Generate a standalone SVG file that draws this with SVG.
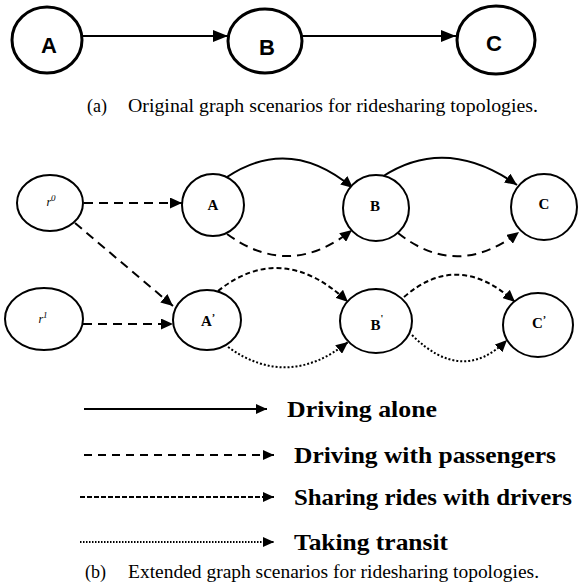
<svg xmlns="http://www.w3.org/2000/svg" width="578" height="586" viewBox="0 0 578 586">
  <style>
    .bg { fill: #ffffff; }
    .node-a { fill: #ffffff; stroke: #000; stroke-width: 3; }
    .node { fill: #ffffff; stroke: #000; stroke-width: 2; }
    .lbl-a { font-family: "Liberation Sans", Arial, sans-serif; font-weight: bold; font-size: 22px; text-anchor: middle; fill: #000; }
    .lbl { font-family: "Liberation Serif", "Times New Roman", serif; font-weight: bold; font-size: 15px; text-anchor: middle; fill: #000; }
    .lbl-r { font-family: "Liberation Serif", "Times New Roman", serif; font-style: italic; font-size: 12px; text-anchor: middle; fill: #000; }
    .cap { font-family: "Liberation Serif", "Times New Roman", serif; font-size: 18px; fill: #000; }
    .leg { font-family: "Liberation Serif", "Times New Roman", serif; font-weight: bold; font-size: 23px; fill: #000; }
    .edge { fill: none; stroke: #000; stroke-width: 2; }
    .solid-a { marker-end: url(#headA); }
    .solid { marker-end: url(#head); }
    .dash { stroke-dasharray: 9 6; marker-end: url(#head); }
    .dashdot { stroke-dasharray: 5 3; marker-end: url(#head); }
    .dot { stroke-dasharray: 2 2; marker-end: url(#head); }
    .leg-line { fill: none; stroke: #000; stroke-width: 1.8; marker-end: url(#headL); }
  </style>
  <defs>
    <marker id="headA" markerUnits="userSpaceOnUse" markerWidth="15" markerHeight="12" refX="15" refY="6" orient="auto">
      <path d="M0,0 L15,6 L0,12 z" fill="#000"/>
    </marker>
    <marker id="head" markerUnits="userSpaceOnUse" markerWidth="12" markerHeight="11" refX="12" refY="5.5" orient="auto">
      <path d="M0,0 L12,5.5 L0,11 z" fill="#000"/>
    </marker>
    <marker id="headL" markerUnits="userSpaceOnUse" markerWidth="11" markerHeight="10" refX="11" refY="5" orient="auto">
      <path d="M0,0 L11,5 L0,10 z" fill="#000"/>
    </marker>
  </defs>

  <rect class="bg" x="0" y="0" width="578" height="586"/>

  <!-- (a) original graph -->
  <g id="connectors-a">
    <path class="edge solid-a" d="M82,36 L228,36"/>
    <path class="edge solid-a" d="M301,36 L456,36"/>
  </g>
  <g id="a-node-A">
    <ellipse class="node-a" cx="47" cy="40" rx="35" ry="33"/>
    <text class="lbl-a" x="49" y="53">A</text>
  </g>
  <g id="a-node-B">
    <ellipse class="node-a" cx="265" cy="41" rx="37" ry="32"/>
    <text class="lbl-a" x="267" y="55">B</text>
  </g>
  <g id="a-node-C">
    <ellipse class="node-a" cx="496" cy="40" rx="39" ry="34"/>
    <text class="lbl-a" x="494" y="51">C</text>
  </g>
  <text class="cap" x="87" y="112">(a)</text>
  <text class="cap" x="128" y="112" textLength="410" lengthAdjust="spacingAndGlyphs">Original graph scenarios for ridesharing topologies.</text>

  <!-- (b) extended graph -->
  <g id="connectors-b">
    <path class="edge dash" d="M84,203 L182,203"/>
    <path class="edge dash" d="M75,223 L173,306"/>
    <path class="edge dash" d="M83,324 L173,324"/>
    <path class="edge solid" d="M227,177 Q290,135 353,188"/>
    <path class="edge solid" d="M382,177 Q446,135 517,185"/>
    <path class="edge dash" d="M227,234 Q290,280 352,230"/>
    <path class="edge dash" d="M398,233 Q457,280 519,232"/>
    <path class="edge dashdot" d="M218,291 Q282,240 348,302"/>
    <path class="edge dashdot" d="M404,297 Q458,250 515,302"/>
    <path class="edge dot" d="M228,347 Q288,390 348,342"/>
    <path class="edge dot" d="M412,335 Q462,385 507,340"/>
  </g>
  <g id="node-r0">
    <ellipse class="node" cx="50" cy="203" rx="33" ry="28"/>
    <text class="lbl-r" x="51" y="206">r<tspan font-size="9" dy="-5">0</tspan></text>
  </g>
  <g id="node-r1">
    <ellipse class="node" cx="44" cy="319" rx="39" ry="31"/>
    <text class="lbl-r" x="43" y="323">r<tspan font-size="9" dy="-5">1</tspan></text>
  </g>
  <g id="node-A">
    <ellipse class="node" cx="213" cy="205" rx="31" ry="31"/>
    <text class="lbl" x="213" y="210">A</text>
  </g>
  <g id="node-B">
    <ellipse class="node" cx="376" cy="208" rx="33" ry="33"/>
    <text class="lbl" x="375" y="211">B</text>
  </g>
  <g id="node-C">
    <ellipse class="node" cx="544" cy="207" rx="33" ry="33"/>
    <text class="lbl" x="544" y="209">C</text>
  </g>
  <g id="node-A-prime">
    <ellipse class="node" cx="207" cy="320" rx="34" ry="30"/>
    <text class="lbl" x="208" y="326">A<tspan font-size="10" dy="-5">’</tspan></text>
  </g>
  <g id="node-B-prime">
    <ellipse class="node" cx="376" cy="321" rx="36" ry="32"/>
    <text class="lbl" x="377" y="330">B<tspan font-size="10" dy="-8">'</tspan></text>
  </g>
  <g id="node-C-prime">
    <ellipse class="node" cx="538" cy="325" rx="35" ry="32"/>
    <text class="lbl" x="539" y="328">C<tspan font-size="10" dy="-5">’</tspan></text>
  </g>

  <!-- legend -->
  <g id="legend">
    <path class="leg-line" d="M84,409 L267,409"/>
    <text class="leg" x="287" y="417" textLength="150" lengthAdjust="spacingAndGlyphs">Driving alone</text>
    <path class="leg-line" d="M84,455 L274,455" stroke-dasharray="8 6"/>
    <text class="leg" x="294" y="463" textLength="262" lengthAdjust="spacingAndGlyphs">Driving with passengers</text>
    <path class="leg-line" d="M80,497 L274,497" stroke-dasharray="5 2"/>
    <text class="leg" x="294" y="505" textLength="278" lengthAdjust="spacingAndGlyphs">Sharing rides with drivers</text>
    <path class="leg-line" d="M80,542 L274,542" stroke-dasharray="1.5 1.5"/>
    <text class="leg" x="294" y="550" textLength="154" lengthAdjust="spacingAndGlyphs">Taking transit</text>
  </g>
  <text class="cap" x="85" y="578">(b)</text>
  <text class="cap" x="128" y="578" textLength="411" lengthAdjust="spacingAndGlyphs">Extended graph scenarios for ridesharing topologies.</text>
</svg>
